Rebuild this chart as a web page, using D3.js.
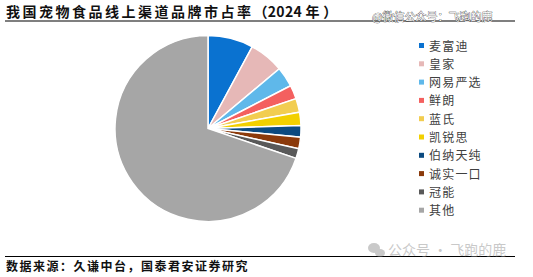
<!DOCTYPE html>
<html>
<head>
<meta charset="utf-8">
<script src="https://cdn.jsdelivr.net/npm/d3@7"></script>
<style>
  body { margin: 0; background: #fff; }
  svg { display: block; font-family: "Noto Sans CJK SC", sans-serif; }
</style>
</head>
<body>
<svg id="chart"></svg>
<script>
// brands and market share (%)
const brands = ["麦富迪", "皇家", "网易严选", "鲜朗", "蓝氏", "凯锐思", "伯纳天纯", "诚实一口", "冠能", "其他"];
const shares = [7.9, 6.0, 3.5, 2.4, 2.4, 2.3, 2.0, 2.0, 1.7, 69.8];
const colors = ["#0a72d0", "#e6b8b7", "#5fb8ea", "#f4605f", "#f2cd50", "#f2d000", "#0b4a80", "#8b3a0b", "#595959", "#a6a6a6"];

const W = 533, H = 277;
const svg = d3.select("#chart").attr("width", W).attr("height", H);

// title + rule
const title = svg.append("text")
    .attr("x", 6).attr("y", 17)
    .attr("font-size", 14).attr("font-weight", "bold")
    .attr("fill", "#111");
title.append("tspan").attr("letter-spacing", 2.5).text("我国宠物食品线上渠道品牌市占率");
title.append("tspan").attr("letter-spacing", 0.3).text("（2024 年 ）");
svg.append("line")
    .attr("x1", 5).attr("x2", 515).attr("y1", 21).attr("y2", 21)
    .attr("stroke", "#000").attr("stroke-width", 1.2);
svg.append("text")
    .attr("x", 372).attr("y", 21)
    .attr("font-size", 11)
    .attr("fill", "#fff").attr("stroke", "#333").attr("stroke-width", 0.6)
    .attr("paint-order", "stroke")
    .text("@微信公众号：飞跑的鹿");

// pie
const data = brands.map((b, i) => ({brand: b, value: shares[i]}));
const pie = d3.pie().value(d => d.value).sort(null);
const arc = d3.arc().innerRadius(0).outerRadius(93);

const g = svg.append("g").attr("transform", "translate(208,128.5)");
g.selectAll("path")
    .data(pie(data))
    .enter()
    .append("path")
    .attr("d", arc)
    .attr("fill", (d, i) => colors[i])
    .attr("stroke", "#fff")
    .attr("stroke-width", 1.5);

// legend
const legend = svg.append("g").attr("transform", "translate(419,46)");
brands.forEach((b, i) => {
    legend.append("rect")
        .attr("x", 0).attr("y", i * 18.3 - 3)
        .attr("width", 5).attr("height", 5)
        .attr("fill", colors[i]);
    legend.append("text")
        .attr("x", 10).attr("y", i * 18.3 + 4.5)
        .attr("font-size", 12)
        .attr("letter-spacing", 1.2)
        .attr("fill", "#404040")
        .text(b);
});

// footer
svg.append("line")
    .attr("x1", 5).attr("x2", 515).attr("y1", 256.5).attr("y2", 256.5)
    .attr("stroke", "#000").attr("stroke-width", 1.2);
svg.append("text")
    .attr("x", 6).attr("y", 271)
    .attr("font-size", 12).attr("font-weight", "bold")
    .attr("letter-spacing", 1.5)
    .attr("fill", "#111")
    .text("数据来源：久谦中台，国泰君安证券研究");

// faint wechat watermark
const wm = svg.append("g").attr("opacity", 0.45);
wm.append("ellipse").attr("cx", 374).attr("cy", 248).attr("rx", 6).attr("ry", 5).attr("fill", "#888");
wm.append("ellipse").attr("cx", 380).attr("cy", 253).attr("rx", 5).attr("ry", 4).attr("fill", "#888");
wm.append("text")
    .attr("x", 388).attr("y", 255)
    .attr("font-size", 14)
    .attr("fill", "#888")
    .text("公众号 · 飞跑的鹿");
</script>
</body>
</html>
